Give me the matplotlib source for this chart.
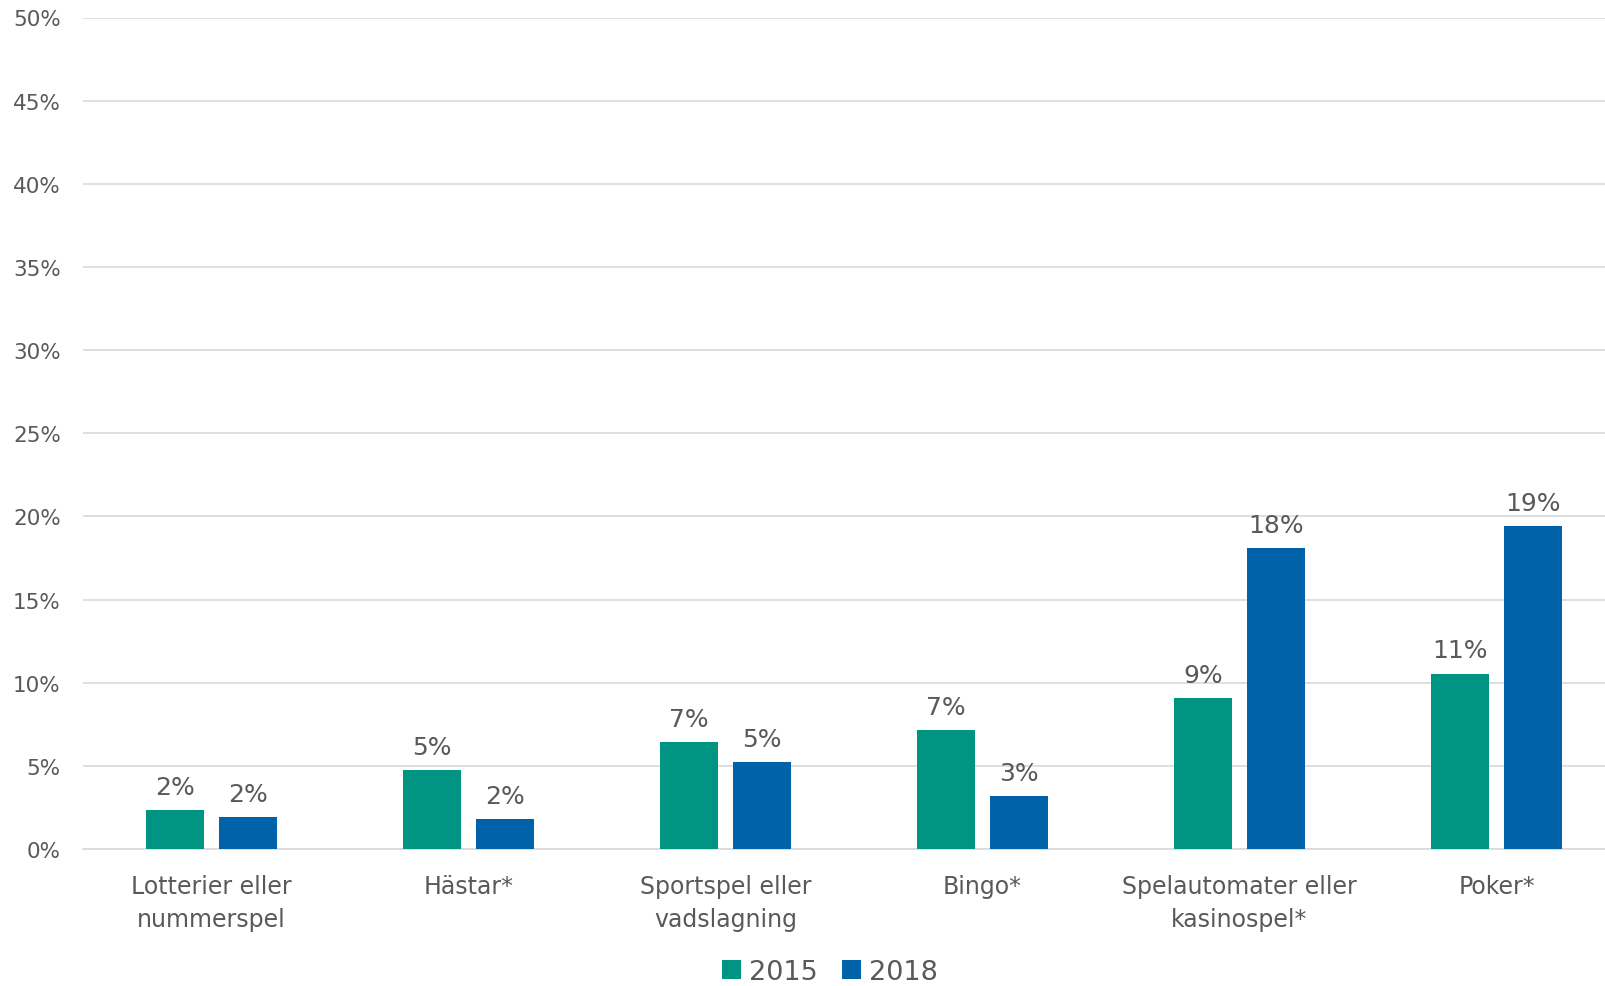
import matplotlib.pyplot as plt
import numpy as np

categories = ['Lotterier eller\nnummerspel', 'Hästar*', 'Sportspel eller\nvadslagning',
              'Bingo*', 'Spelautomater eller\nkasinospel*', 'Poker*']
v2015 = [2.35, 4.75, 6.45, 7.15, 9.05, 10.55]
v2018 = [1.9, 1.8, 5.25, 3.2, 18.1, 19.4]
labels2015 = ['2%', '5%', '7%', '7%', '9%', '11%']
labels2018 = ['2%', '2%', '5%', '3%', '18%', '19%']
yticks = [0, 5, 10, 15, 20, 25, 30, 35, 40, 45, 50]

teal = '#009482'
blue = '#0063AA'
txt = '#595959'

fig = plt.figure(figsize=(16.06, 9.87), dpi=100)
# plot area runs past the right edge, as in the original
ax = fig.add_axes([83 / 1606, 1 - 850 / 987, 1542 / 1606, (850 - 18.5) / 987])

x = np.arange(len(categories))
w = 0.223
off = 0.1415
b1 = ax.bar(x - off, v2015, w, color=teal, label='2015', zorder=3)
b2 = ax.bar(x + off, v2018, w, color=blue, label='2018', zorder=3)

for bars, labs in [(b1, labels2015), (b2, labels2018)]:
    for b, l in zip(bars, labs):
        ax.annotate(l, (b.get_x() + b.get_width() / 2, b.get_height()),
                    xytext=(0, 8), textcoords='offset points',
                    ha='center', va='bottom', fontsize=18, color=txt)

ax.set_xlim(-0.5, len(categories) - 0.5)
ax.set_ylim(0, 50)
ax.set_yticks(yticks)
ax.set_yticklabels([f'{t}%' for t in yticks])
ax.set_xticks(x)
ax.set_xticklabels(categories, fontsize=17, color=txt, linespacing=1.45)
ax.tick_params(axis='y', length=0, labelsize=15.5, labelcolor=txt, pad=16)
ax.tick_params(axis='x', length=0, pad=18)

ax.grid(axis='y', color='#d9d9d9', linewidth=1.2, zorder=0)
for s in ['top', 'right', 'left']:
    ax.spines[s].set_visible(False)
ax.spines['bottom'].set_color('#d9d9d9')
ax.spines['bottom'].set_linewidth(1.2)

leg = fig.legend(handles=[b1, b2], loc='center', bbox_to_anchor=(830 / 1606, 1 - 973 / 987), ncol=2,
                 frameon=False, fontsize=19.5, handlelength=0.7, handleheight=0.7,
                 handletextpad=0.3, columnspacing=0.9)
for t in leg.get_texts():
    t.set_color(txt)

fig.savefig('out.png', dpi=100)
